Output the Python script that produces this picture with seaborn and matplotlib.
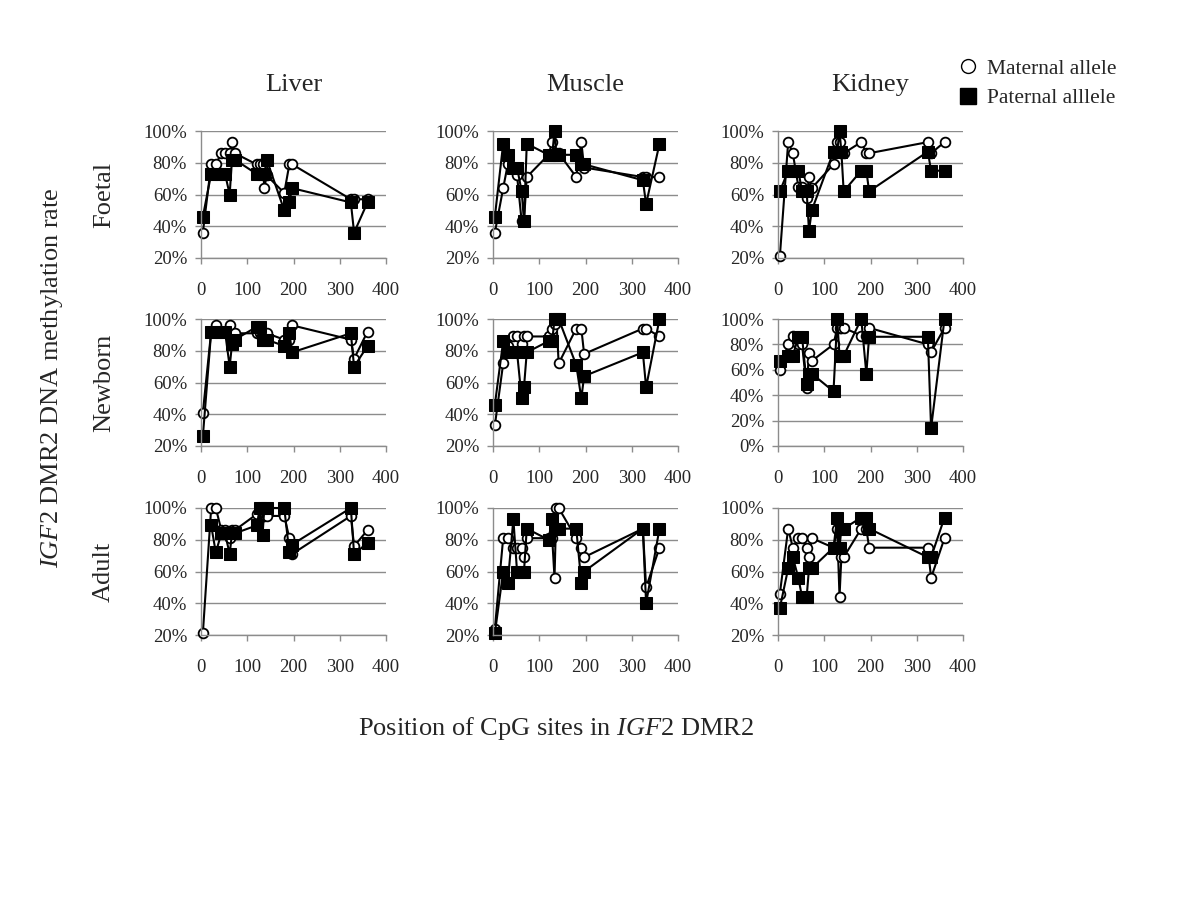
import numpy as np
import pandas as pd
import matplotlib
matplotlib.use('Agg')
import matplotlib.pyplot as plt
from matplotlib.ticker import PercentFormatter
from matplotlib.lines import Line2D
import seaborn as sns

sns.set_style('white')
plt.rcParams['font.family'] = ['Liberation Serif', 'DejaVu Serif']
plt.rcParams['mathtext.fontset'] = 'custom'
plt.rcParams['mathtext.rm'] = 'Liberation Serif'
plt.rcParams['mathtext.it'] = 'Liberation Serif:italic'

# CpG positions (shared by every panel)
pos = [4, 22, 32, 44, 52, 62, 67, 73, 120, 128, 133, 137, 142, 180, 191, 197, 324, 331, 360]

tissues = ['Liver', 'Muscle', 'Kidney']
stages = ['Foetal', 'Newborn', 'Adult']

# methylation rate (%)
liver_foetal_mat = [36, 79, 79, 86, 86, 86, 93, 86, 79, 79, 79, 64, 72, 61, 79, 79, 57, 57, 57]
liver_foetal_pat = [46, 73, 73, 73, 73, 60, 82, 82, 73, 73, 73, 73, 82, 50, 55, 64, 55, 36, 55]
muscle_foetal_mat = [36, 64, 79, 76, 72, 43, 43, 71, 85, 93, 86, 86, 86, 71, 93, 77, 71, 71, 71]
muscle_foetal_pat = [46, 92, 85, 77, 77, 62, 43, 92, 85, 85, 100, 85, 85, 85, 79, 79, 69, 54, 92]
kidney_foetal_mat = [21, 93, 86, 65, 65, 58, 71, 64, 79, 93, 93, 86, 86, 93, 86, 86, 93, 86, 93]
kidney_foetal_pat = [62, 75, 75, 75, 62, 62, 37, 50, 87, 87, 100, 87, 62, 75, 75, 62, 87, 75, 75]

liver_newborn_mat = [41, 92, 96, 92, 92, 96, 87, 91, 91, 91, 92, 91, 91, 87, 87, 96, 87, 75, 92]
liver_newborn_pat = [26, 92, 92, 92, 92, 70, 84, 87, 95, 95, 87, 87, 87, 83, 91, 79, 91, 70, 83]
muscle_newborn_mat = [33, 72, 83, 89, 89, 84, 89, 89, 89, 94, 97, 100, 72, 94, 94, 78, 94, 94, 89]
muscle_newborn_pat = [46, 86, 79, 79, 79, 50, 57, 79, 86, 86, 100, 100, 100, 71, 50, 64, 79, 57, 100]
kidney_newborn_mat = [60, 80, 87, 80, 80, 46, 73, 67, 80, 93, 93, 93, 93, 87, 87, 93, 80, 74, 93]
kidney_newborn_pat = [67, 71, 71, 86, 86, 49, 57, 57, 43, 100, 71, 71, 71, 100, 57, 86, 86, 14, 100]

liver_adult_mat = [21, 100, 100, 86, 86, 81, 86, 86, 96, 100, 95, 95, 95, 95, 81, 71, 95, 76, 86]
liver_adult_pat = [np.nan, 89, 72, 84, 84, 71, 84, 84, 89, 100, 83, 100, 100, 100, 72, 77, 100, 71, 78]
muscle_adult_mat = [24, 81, 81, 75, 75, 75, 69, 81, 81, 81, 56, 100, 100, 81, 75, 69, 87, 50, 75]
muscle_adult_pat = [21, 60, 53, 93, 60, 60, 60, 87, 80, 93, 87, 87, 87, 87, 53, 60, 87, 40, 87]
kidney_adult_mat = [46, 87, 75, 81, 81, 75, 69, 81, 75, 87, 44, 69, 69, 87, 87, 75, 75, 56, 81]
kidney_adult_pat = [37, 62, 69, 56, 44, 44, 62, 62, 75, 94, 75, 87, 87, 94, 94, 87, 69, 69, 94]

panels = {
    ('Foetal', 'Liver'): (liver_foetal_mat, liver_foetal_pat),
    ('Foetal', 'Muscle'): (muscle_foetal_mat, muscle_foetal_pat),
    ('Foetal', 'Kidney'): (kidney_foetal_mat, kidney_foetal_pat),
    ('Newborn', 'Liver'): (liver_newborn_mat, liver_newborn_pat),
    ('Newborn', 'Muscle'): (muscle_newborn_mat, muscle_newborn_pat),
    ('Newborn', 'Kidney'): (kidney_newborn_mat, kidney_newborn_pat),
    ('Adult', 'Liver'): (liver_adult_mat, liver_adult_pat),
    ('Adult', 'Muscle'): (muscle_adult_mat, muscle_adult_pat),
    ('Adult', 'Kidney'): (kidney_adult_mat, kidney_adult_pat),
}

W, H = 1200, 900
fig = plt.figure(figsize=(12, 9), dpi=100)

lefts = [201, 493, 778]
tops = [131, 319, 508]
aw, ah = 185, 127
grey = '#8c8c8c'

for i, st in enumerate(stages):
    for j, ti in enumerate(tissues):
        ax = fig.add_axes([lefts[j] / W, 1 - (tops[i] + ah) / H, aw / W, ah / H])
        mat, pat = panels[(st, ti)]
        df = pd.DataFrame({'pos': pos, 'mat': mat, 'pat': pat})
        sns.lineplot(data=df, x='pos', y='mat', ax=ax, color='black', linewidth=1.5,
                     marker='o', markersize=7, markerfacecolor='white',
                     markeredgecolor='black', markeredgewidth=1.3)
        sns.lineplot(data=df, x='pos', y='pat', ax=ax, color='black', linewidth=1.5,
                     marker='s', markersize=8.5, markerfacecolor='black',
                     markeredgecolor='black')
        ax.set_xlim(0, 400)
        ax.set_xticks([0, 100, 200, 300, 400])
        if st == 'Newborn' and ti == 'Kidney':
            ax.set_ylim(0, 100)
            ax.set_yticks([0, 20, 40, 60, 80, 100])
        else:
            ax.set_ylim(20, 100)
            ax.set_yticks([20, 40, 60, 80, 100])
        ax.yaxis.set_major_formatter(PercentFormatter(100, decimals=0))
        ax.grid(axis='y', color=grey, linewidth=1)
        ax.set_axisbelow(True)
        for s in ['top', 'right']:
            ax.spines[s].set_visible(False)
        for s in ['left', 'bottom']:
            ax.spines[s].set_color(grey)
            ax.spines[s].set_linewidth(1)
        ax.tick_params(axis='both', which='major', labelsize=13.5, length=4,
                       width=1, color=grey, direction='out')
        ax.tick_params(axis='x', pad=13, bottom=True)
        ax.tick_params(axis='y', pad=6, left=True)
        ax.set_xlabel('')
        ax.set_ylabel('')
        for ln in ax.lines:
            ln.set_clip_on(False)

# column and row headers
for j, ti in enumerate(tissues):
    fig.text((lefts[j] + aw / 2) / W, 1 - 85 / H, ti, ha='center', va='center', fontsize=19)
for i, st in enumerate(stages):
    fig.text(104 / W, 1 - (tops[i] + ah / 2) / H, st, ha='center', va='center',
             rotation=90, fontsize=19)

fig.text(52 / W, 1 - 378 / H, r'$\it{IGF2}$ DMR2 DNA methylation rate', ha='center',
         va='center', rotation=90, fontsize=19)
fig.text(556 / W, 1 - 729 / H, r'Position of CpG sites in $\it{IGF2}$ DMR2', ha='center',
         va='center', fontsize=19)

handles = [
    Line2D([], [], linestyle='none', marker='o', markersize=10, markerfacecolor='white',
           markeredgecolor='black', markeredgewidth=1),
    Line2D([], [], linestyle='none', marker='s', markersize=11, markerfacecolor='black',
           markeredgecolor='black'),
]
fig.legend(handles, ['Maternal allele', 'Paternal alllele'], loc='upper left',
           bbox_to_anchor=(946 / W, 1 - 50 / H), frameon=False, fontsize=15.5,
           handletextpad=0.3, labelspacing=0.45, handlelength=1.2, borderaxespad=0)

fig.savefig('out.png', dpi=100)
